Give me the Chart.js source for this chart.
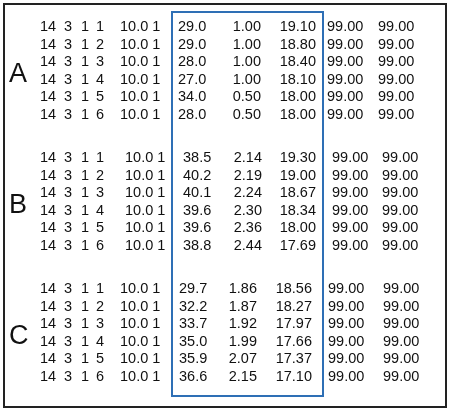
<!DOCTYPE html>
<html><head><meta charset="utf-8">
<script src="https://cdn.jsdelivr.net/npm/chart.js@4"></script>
<style>html,body{margin:0;padding:0;background:#fff}#wrap{width:450px;height:411px}</style>
</head><body><div id="wrap"><canvas id="c"></canvas></div>
<script>
// Table data
const groups = ['A', 'B', 'C'];
const runIds = [1, 2, 3, 4, 5, 6];
const colFirst = [
  [29.0, 29.0, 28.0, 27.0, 34.0, 28.0],
  [38.5, 40.2, 40.1, 39.6, 39.6, 38.8],
  [29.7, 32.2, 33.7, 35.0, 35.9, 36.6]
];
const colSecond = [
  [1.00, 1.00, 1.00, 1.00, 0.50, 0.50],
  [2.14, 2.19, 2.24, 2.30, 2.36, 2.44],
  [1.86, 1.87, 1.92, 1.99, 2.07, 2.15]
];
const colThird = [
  [19.10, 18.80, 18.40, 18.10, 18.00, 18.00],
  [19.30, 19.00, 18.67, 18.34, 18.00, 17.69],
  [18.56, 18.27, 17.97, 17.66, 17.37, 17.10]
];
const colFill = [99.00, 99.00];

// layout in picture coordinates (y down)
const groupTop = [27, 158, 289];
const rowStep = 17.6;
const firstX = [178, 183, 179];
const secondX = [261, 262, 257];
const thirdX = [316, 316, 312];
const fillX = [[327, 378], [332, 382], [328, 383]];
const idxX = [120, 125, 120];

const tablePlugin = {
  id: 'table',
  afterDraw(chart) {
    const ctx = chart.ctx, sx = chart.scales.x, sy = chart.scales.y;
    const X = v => sx.getPixelForValue(v), Y = v => sy.getPixelForValue(v);
    ctx.save();
    ctx.strokeStyle = '#222'; ctx.lineWidth = 2;
    ctx.strokeRect(X(4), Y(4), X(446) - X(4), Y(407) - Y(4));
    ctx.strokeStyle = '#2e6fb5'; ctx.lineWidth = 2;
    ctx.strokeRect(X(172), Y(12), X(323) - X(172), Y(396) - Y(12));
    ctx.fillStyle = '#111';
    ctx.textBaseline = 'middle';
    groups.forEach((g, gi) => {
      ctx.font = '27px "Liberation Sans", Arial';
      ctx.textAlign = 'left';
      ctx.fillText(g, X(9), Y(groupTop[gi] + rowStep * 2.7));
      ctx.font = '14.5px "Liberation Sans", Arial';
      runIds.forEach((r, ri) => {
        const y = Y(groupTop[gi] + ri * rowStep);
        ctx.textAlign = 'left';
        ctx.fillText('14', X(40), y);
        ctx.fillText('3', X(64), y);
        ctx.fillText('1', X(81), y);
        ctx.fillText(String(r), X(96), y);
        ctx.fillText('10.0 1', X(idxX[gi]), y);
        ctx.fillText(colFirst[gi][ri].toFixed(1), X(firstX[gi]), y);
        ctx.textAlign = 'right';
        ctx.fillText(colSecond[gi][ri].toFixed(2), X(secondX[gi]), y);
        ctx.fillText(colThird[gi][ri].toFixed(2), X(thirdX[gi]), y);
        ctx.textAlign = 'left';
        ctx.fillText(colFill[0].toFixed(2), X(fillX[gi][0]), y);
        ctx.fillText(colFill[1].toFixed(2), X(fillX[gi][1]), y);
      });
    });
    ctx.restore();
  }
};

new Chart(document.getElementById('c'), {
  type: 'scatter',
  data: { datasets: [{ data: [], pointRadius: 0 }] },
  options: {
    responsive: true, maintainAspectRatio: false, animation: false,
    layout: { padding: 0 },
    plugins: { legend: { display: false }, tooltip: { enabled: false } },
    scales: {
      x: { type: 'linear', min: 0, max: 450, display: false },
      y: { type: 'linear', min: 0, max: 411, reverse: true, display: false }
    }
  },
  plugins: [tablePlugin]
});
</script></body></html>
